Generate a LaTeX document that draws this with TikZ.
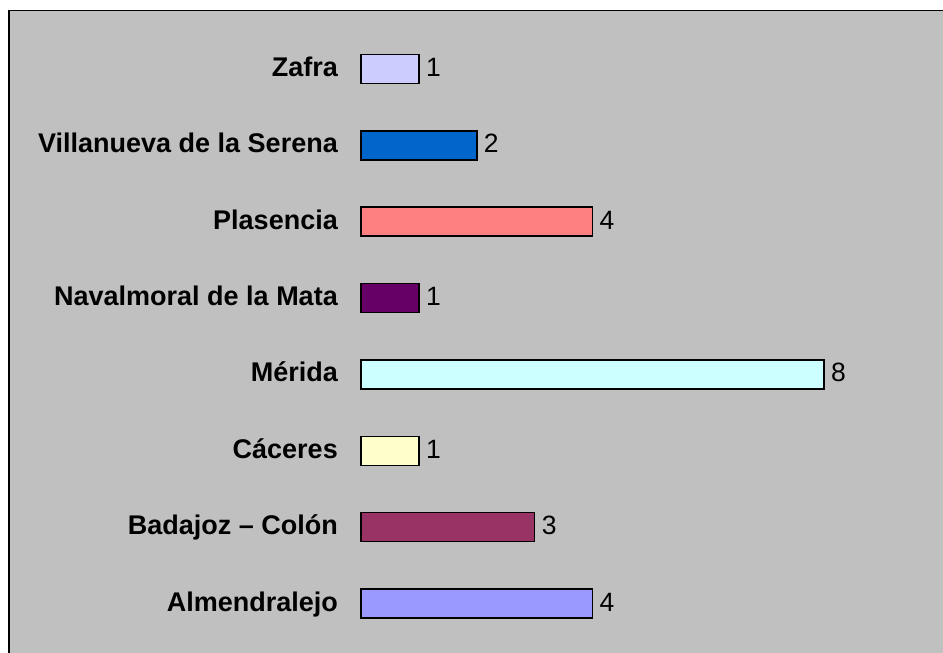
\documentclass[tikz,border=0pt]{standalone}
\usepackage{fontspec}
\setmainfont{Liberation Sans}
\definecolor{bg}{HTML}{C0C0C0}
\definecolor{cZafra}{HTML}{CCCCFF}
\definecolor{cVilla}{HTML}{0066CC}
\definecolor{cPlas}{HTML}{FF8080}
\definecolor{cNava}{HTML}{660066}
\definecolor{cMeri}{HTML}{CCFFFF}
\definecolor{cCace}{HTML}{FFFFCC}
\definecolor{cBada}{HTML}{993366}
\definecolor{cAlme}{HTML}{9999FF}
\tikzset{
  barbox/.style={draw=black, line width=1.6pt},
  catlabel/.style={anchor=base east, inner sep=0pt, font=\fontsize{27}{31}\selectfont\bfseries},
  vallabel/.style={anchor=base west, inner sep=0pt, font=\fontsize{26.5}{31}\selectfont},
}
\begin{document}
\begin{tikzpicture}[x=1pt,y=-1pt]
\useasboundingbox (0,0) rectangle (943,653);
\clip (0,0) rectangle (943,653);
\draw[fill=bg, line width=1.6pt] (9,10.5) rectangle (960,670);
\def\unit{57.85}
\foreach \i/\name/\val/\col/\lab in {
  0/zafra/1/cZafra/Zafra,
  1/villa/2/cVilla/Villanueva de la Serena,
  2/plas/4/cPlas/Plasencia,
  3/nava/1/cNava/Navalmoral de la Mata,
  4/meri/8/cMeri/Mérida,
  5/cace/1/cCace/Cáceres,
  6/bada/3/cBada/Badajoz – Colón,
  7/alme/4/cAlme/Almendralejo}{
  \pgfmathsetmacro{\yc}{69+\i*76.36}
  \pgfmathsetmacro{\xe}{361+\val*\unit}
  \draw[barbox, fill=\col] (361,\yc-14.5) rectangle (\xe,\yc+14.5);
  \coordinate (\name-w) at (361,\yc);
  \coordinate (\name-e) at (\xe,\yc);
  \node[catlabel] (\name-lab) at ([xshift=-23pt,yshift=-7.5pt]\name-w) {\lab};
  \node[vallabel] (\name-val) at ([xshift=7pt,yshift=-7.5pt]\name-e) {\val};
}
\end{tikzpicture}
\end{document}
